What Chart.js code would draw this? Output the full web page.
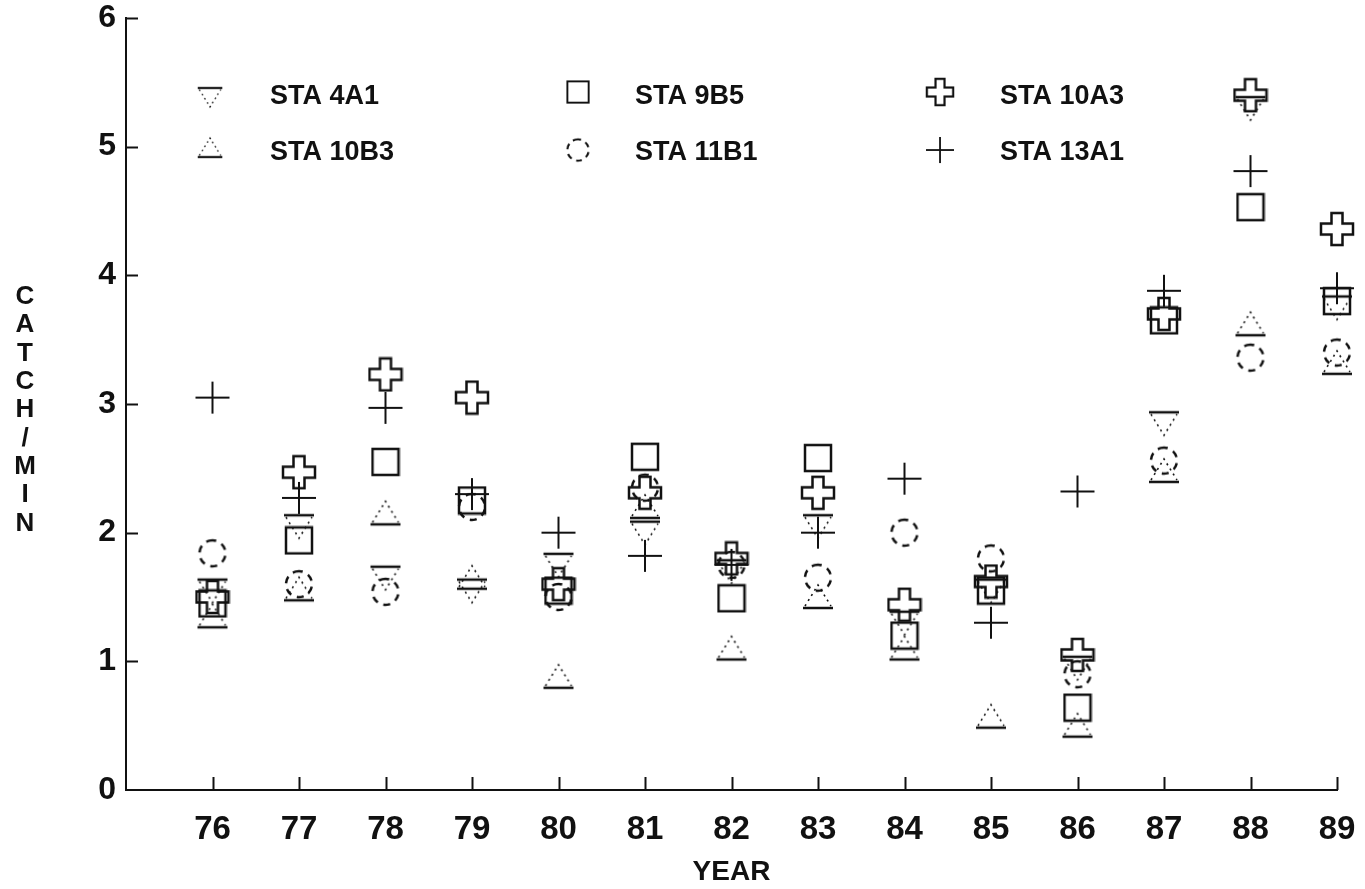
<!DOCTYPE html>
<html>
<head>
<meta charset="utf-8">
<script src="https://cdn.jsdelivr.net/npm/chart.js@4.4.0/dist/chart.umd.min.js"></script>
<style>
  html, body { margin: 0; padding: 0; background: #fff; }
  #wrap { width: 1365px; height: 889px; }
</style>
</head>
<body>
<div id="wrap"><canvas id="chart"></canvas></div>
<script>
// catch per minute by station, 1976-1989
var years = [76, 77, 78, 79, 80, 81, 82, 83, 84, 85, 86, 87, 88, 89];
var sta4A1  = [1.55, 2.05, 1.65, 1.55, 1.75, 2.00, 1.70, 2.05, 1.30, 1.55, 0.95, 2.85, 5.30, 3.75];
var sta9B5  = [1.45, 1.94, 2.55, 2.25, 1.55, 2.59, 1.49, 2.58, 1.20, 1.55, 0.64, 3.65, 4.53, 3.80];
var sta10A3 = [1.50, 2.47, 3.23, 3.05, 1.60, 2.31, 1.80, 2.31, 1.44, 1.62, 1.05, 3.70, 5.40, 4.36];
var sta10B3 = [1.35, 1.56, 2.15, 1.65, 0.88, 2.20, 1.10, 1.50, 1.10, 0.57, 0.50, 2.48, 3.62, 3.32];
var sta11B1 = [1.84, 1.60, 1.54, 2.20, 1.50, 2.35, 1.75, 1.65, 2.00, 1.80, 0.90, 2.56, 3.36, 3.40];
var sta13A1 = [3.05, 2.27, 2.97, 2.30, 2.00, 1.82, 1.75, 2.00, 2.42, 1.30, 2.32, 3.88, 4.81, 3.90];
var yTicks = [0, 1, 2, 3, 4, 5, 6];
var yTitle = 'CATCH/MIN';
var xTitle = 'YEAR';

var INK = '#111';
var FONT = '"Liberation Sans", Arial, sans-serif';

function mk(w, h, draw) {
  var c = document.createElement('canvas');
  c.width = w; c.height = h;
  var g = c.getContext('2d');
  g.strokeStyle = INK; g.lineWidth = 2.5; g.lineCap = 'butt';
  draw(g);
  return c;
}

var imgTriDown = mk(34, 30, function (g) {
  g.beginPath(); g.moveTo(2, 4); g.lineTo(32, 4); g.stroke();
  g.setLineDash([2, 4]); g.lineWidth = 1.6;
  g.beginPath(); g.moveTo(4, 6); g.lineTo(17, 27); g.lineTo(30, 6); g.stroke();
});
var imgTriUp = mk(34, 30, function (g) {
  g.beginPath(); g.moveTo(2, 26); g.lineTo(32, 26); g.stroke();
  g.setLineDash([2, 4]); g.lineWidth = 1.6;
  g.beginPath(); g.moveTo(4, 24); g.lineTo(17, 3); g.lineTo(30, 24); g.stroke();
});
var imgSquare = mk(30, 30, function (g) {
  g.strokeRect(2, 2, 26, 26);
});
var imgFatCross = mk(36, 36, function (g) {
  var c = 18, a = 5.5, L = 16;
  var p = [[c-a,c-L],[c+a,c-L],[c+a,c-a],[c+L,c-a],[c+L,c+a],[c+a,c+a],
           [c+a,c+L],[c-a,c+L],[c-a,c+a],[c-L,c+a],[c-L,c-a],[c-a,c-a]];
  g.beginPath(); g.moveTo(p[0][0], p[0][1]);
  for (var i = 1; i < p.length; i++) g.lineTo(p[i][0], p[i][1]);
  g.closePath(); g.stroke();
});
var imgPlus = mk(36, 34, function (g) {
  g.lineWidth = 2;
  g.beginPath(); g.moveTo(1, 17); g.lineTo(35, 17); g.moveTo(18, 1); g.lineTo(18, 33); g.stroke();
});
var imgDashCircle = mk(32, 32, function (g) {
  g.setLineDash([7, 6]);
  g.beginPath(); g.arc(16, 16, 13, -Math.PI / 2 - 0.25, 1.5 * Math.PI); g.stroke();
});

function pts(arr) {
  return years.map(function (x, i) { return { x: x, y: arr[i] }; });
}

var series = [
  { label: 'STA 4A1',  data: sta4A1,  img: imgTriDown },
  { label: 'STA 9B5',  data: sta9B5,  img: imgSquare },
  { label: 'STA 10A3', data: sta10A3, img: imgFatCross },
  { label: 'STA 10B3', data: sta10B3, img: imgTriUp },
  { label: 'STA 11B1', data: sta11B1, img: imgDashCircle },
  { label: 'STA 13A1', data: sta13A1, img: imgPlus }
];

// legend slots: marker centre and text start
var legendPos = [
  { mx: 210, my: 97,  tx: 270, ty: 97 },
  { mx: 578, my: 92,  tx: 635, ty: 97 },
  { mx: 940, my: 92,  tx: 1000, ty: 97 },
  { mx: 210, my: 148, tx: 270, ty: 153 },
  { mx: 578, my: 150, tx: 635, ty: 153 },
  { mx: 940, my: 150, tx: 1000, ty: 153 }
];

var decor = {
  id: 'decor',
  afterDraw: function (chart) {
    var ctx = chart.ctx, a = chart.chartArea;
    var xs = chart.scales.x, ys = chart.scales.y;
    ctx.save();
    ctx.strokeStyle = INK;
    ctx.lineWidth = 2;
    // inward tick marks
    yTicks.forEach(function (v) {
      if (v === 0) return;
      var py = Math.round(ys.getPixelForValue(v)) + 0.5;
      ctx.beginPath(); ctx.moveTo(a.left, py); ctx.lineTo(a.left + 12, py); ctx.stroke();
    });
    years.forEach(function (v) {
      var px = Math.round(xs.getPixelForValue(v)) + 0.5;
      ctx.beginPath(); ctx.moveTo(px, a.bottom); ctx.lineTo(px, a.bottom - 13); ctx.stroke();
    });
    // stacked y title
    ctx.fillStyle = INK;
    ctx.font = 'bold 26px ' + FONT;
    ctx.textAlign = 'center';
    ctx.textBaseline = 'middle';
    for (var i = 0; i < yTitle.length; i++) {
      ctx.fillText(yTitle[i], 25, 297 + i * 28.3);
    }
    // legend
    ctx.font = 'bold 27px ' + FONT;
    ctx.textAlign = 'left';
    series.forEach(function (s, i) {
      var p = legendPos[i], im = s.img, k = 0.82;
      ctx.drawImage(im, p.mx - im.width * k / 2, p.my - im.height * k / 2, im.width * k, im.height * k);
      ctx.fillText(s.label, p.tx, p.ty);
    });
    ctx.restore();
  }
};

new Chart(document.getElementById('chart'), {
  type: 'scatter',
  data: {
    datasets: series.map(function (s) {
      return {
        label: s.label,
        data: pts(s.data),
        pointStyle: s.img,
        pointRadius: 15,
        pointHoverRadius: 15,
        clip: false
      };
    })
  },
  options: {
    responsive: true,
    maintainAspectRatio: false,
    animation: false,
    layout: { padding: { left: 0, right: 28, top: 18, bottom: 0 } },
    plugins: { legend: { display: false }, tooltip: { enabled: false } },
    scales: {
      x: {
        type: 'linear',
        min: 75, max: 89,
        grid: { display: false, drawTicks: false },
        border: { display: true, color: INK, width: 2 },
        ticks: {
          stepSize: 1, autoSkip: false, maxRotation: 0, padding: 20,
          color: INK, font: { family: FONT, size: 33, weight: 'bold' },
          callback: function (v) { return v === 75 ? '' : String(v); }
        },
        title: {
          display: true, text: xTitle, color: INK,
          font: { family: FONT, size: 28, weight: 'bold' },
          padding: { top: 0, bottom: 0 }
        },
        afterFit: function (s) { s.height = 99; s.paddingLeft = 0; s.paddingRight = 0; }
      },
      y: {
        min: 0, max: 6,
        grid: { display: false, drawTicks: false },
        border: { display: true, color: INK, width: 2 },
        ticks: {
          stepSize: 1, padding: 10, color: INK,
          font: { family: FONT, size: 32, weight: 'bold' }
        },
        afterFit: function (s) { s.width = 126; s.paddingTop = 0; s.paddingBottom = 0; }
      }
    }
  },
  plugins: [decor]
});
</script>
</body>
</html>
